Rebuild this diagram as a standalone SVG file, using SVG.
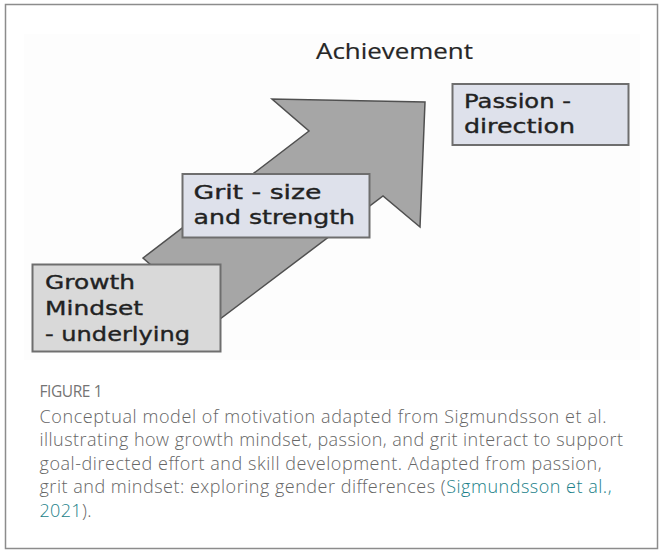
<svg xmlns="http://www.w3.org/2000/svg" width="661" height="554" viewBox="0 0 661 554">
  <style>
    .frame { fill: #ffffff; stroke: #8c8c8c; stroke-width: 1.5; }
    .photo { fill: #fdfdfd; }
    .box { stroke: #6e6e6e; stroke-width: 2; }
    .blue { fill: #dee1eb; }
    .grey { fill: #d9d9d9; }
    .hand { font-family: "DejaVu Sans", sans-serif; font-size: 19.5px; fill: #222222; stroke: #222222; stroke-width: 0.35; }
    .title { font-family: "Open Sans", "Liberation Sans", sans-serif; font-size: 22px; fill: #262626; stroke: #262626; stroke-width: 0.2; }
    .arrow { fill: #a6a6a6; stroke: #505050; stroke-width: 1.5; stroke-linejoin: miter; }
    .figlabel { font-family: "Open Sans", "Liberation Sans", sans-serif; font-size: 15.5px; fill: #747474; }
    .cap { font-family: "Open Sans", "Liberation Sans", sans-serif; font-size: 18px; font-weight: 300; fill: #666666; }
    .link { fill: #1b7f89; }
  </style>

  <rect class="frame" x="5.5" y="4.5" width="652" height="544"/>
  <rect class="photo" x="24" y="34" width="616" height="326"/>

  <g id="connectors">
    <polygon class="arrow" points="143,258 309,131 272,99 425,102 420,227 383,196 216,322"/>
  </g>

  <g id="node-achievement">
    <text class="title" x="316" y="59.3" textLength="157" lengthAdjust="spacingAndGlyphs">Achievement</text>
  </g>

  <g id="node-passion">
    <rect class="box blue" x="452.5" y="84" width="176" height="61"/>
    <text class="hand" x="464" y="107.7" textLength="107" lengthAdjust="spacingAndGlyphs">Passion -</text>
    <text class="hand" x="464" y="133.3" textLength="111" lengthAdjust="spacingAndGlyphs">direction</text>
  </g>

  <g id="node-grit">
    <rect class="box blue" x="182.5" y="174" width="187" height="63.5"/>
    <text class="hand" x="193.5" y="199.3" textLength="128" lengthAdjust="spacingAndGlyphs">Grit - size</text>
    <text class="hand" x="193.5" y="224.3" textLength="161.5" lengthAdjust="spacingAndGlyphs">and strength</text>
  </g>

  <g id="node-growth">
    <rect class="box grey" x="32.5" y="264.5" width="188" height="87"/>
    <text class="hand" x="45" y="289" textLength="90" lengthAdjust="spacingAndGlyphs">Growth</text>
    <text class="hand" x="45" y="315" textLength="98" lengthAdjust="spacingAndGlyphs">Mindset</text>
    <text class="hand" x="45" y="341" textLength="145" lengthAdjust="spacingAndGlyphs">- underlying</text>
  </g>

  <g id="caption">
    <text class="figlabel" x="39.5" y="397.3" textLength="63">FIGURE 1</text>
    <text class="cap" x="39.5" y="422.7" textLength="567">Conceptual model of motivation adapted from Sigmundsson et al.</text>
    <text class="cap" x="39.5" y="446.3" textLength="583.5">illustrating how growth mindset, passion, and grit interact to support</text>
    <text class="cap" x="39.5" y="469.8" textLength="562">goal-directed effort and skill development. Adapted from passion,</text>
    <text class="cap" x="39.5" y="493.3" textLength="572">grit and mindset: exploring gender differences (<tspan class="link">Sigmundsson et al.,</tspan></text>
    <text class="cap" x="39.5" y="517" textLength="52"><tspan class="link">2021</tspan>).</text>
  </g>
</svg>
